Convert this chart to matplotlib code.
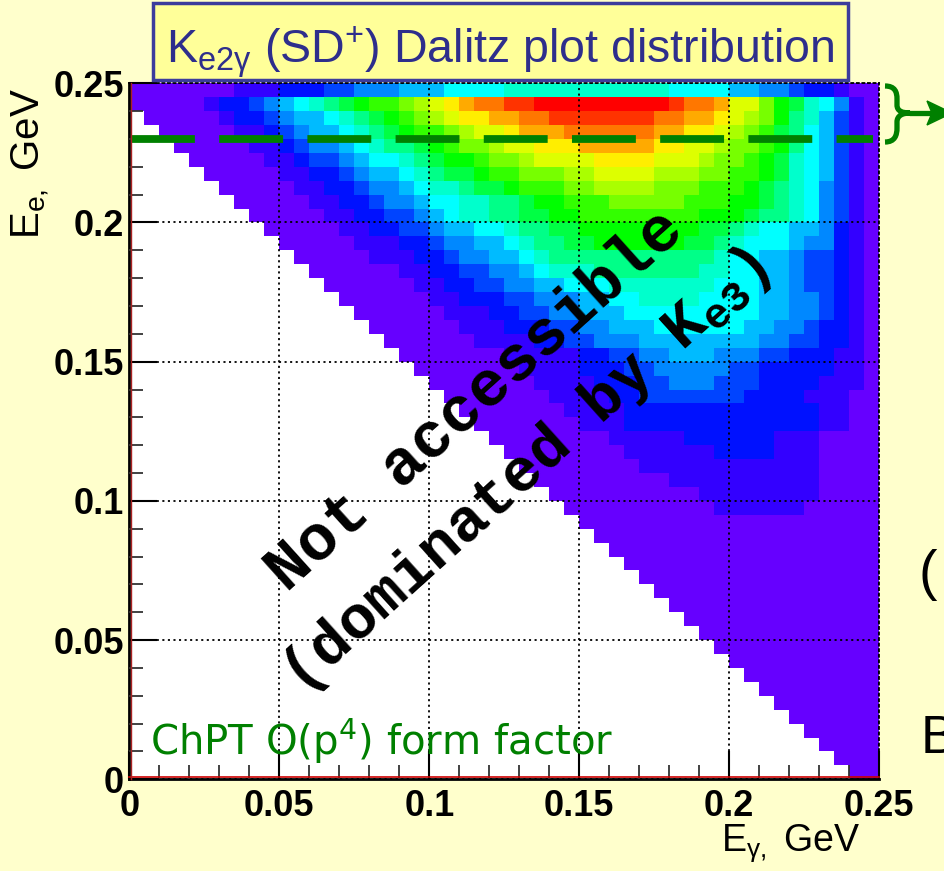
import numpy as np
import matplotlib
matplotlib.use('Agg')
import matplotlib.pyplot as plt
from matplotlib.colors import ListedColormap, BoundaryNorm
from matplotlib.path import Path
from matplotlib.patches import PathPatch, Rectangle, Polygon
import matplotlib.transforms as mtransforms

plt.rcParams['lines.scale_dashes'] = False

# 50 x 50 bins over the Dalitz plane (GeV)
e_gamma_edges = np.linspace(0.0, 0.25, 51)
e_e_edges = np.linspace(0.0, 0.25, 51)

# palette level per bin, one string per E_e row, top row (0.245-0.25) first.
# '.' = empty bin, '0'-'9' then 'a'-'k' = levels 0..20
rows_top_down = [
    "0000000111" "2223344455" "5666677777" "7777776666" "5544322100",  # 49
    "0000012234" "56789abbcd" "efhiijjkkk" "kkkkkkjiih" "eeca976410",  # 48
    ".000001223" "4556789abc" "deffhhiijj" "jjjjjiihhf" "edca875310",  # 47
    "..00000112" "34556789ab" "bcdeefhhhi" "iiiiihhffe" "dcb9865310",  # 46
    "...0000011" "2344567889" "abccdeefff" "hhhhhffeed" "ccba865310",  # 45
    "....000001" "1233456678" "9aabccdeee" "effffeeedc" "cba9765310",  # 44
    ".....00000" "1122345567" "899abbcccd" "deeeedddcc" "bba9765310",  # 43
    "......0000" "0112234456" "77899abbbc" "cddddcccbb" "ba98764310",  # 42
    ".......000" "0011223445" "6677889aab" "bbcccccbbb" "aa98764310",  # 41
    "........00" "0001122334" "56778899aa" "bbbbbbbbaa" "a988764310",  # 40
    ".........0" "0000112233" "4556678899" "aaaaaaaa99" "8766554210",  # 39
    ".........." "0000011122" "3445567889" "9aaaaaa998" "7666544210",  # 38
    ".........." ".000001112" "2344556788" "8888888887" "6655433210",  # 37
    ".........." "..00000011" "2233445677" "7888888877" "6655433210",  # 36
    ".........." "...0000001" "1223344556" "6677777776" "6655433210",  # 35
    ".........." "....000000" "1122233444" "5566777766" "6655443210",  # 34
    ".........." ".....00000" "0111223344" "5556666666" "6655443210",  # 33
    ".........." "......0000" "0011122233" "4455566666" "6554432210",  # 32
    ".........." ".......000" "0001111223" "3444555555" "5544332210",  # 31
    ".........." "........00" "0000011111" "2233445554" "4433222110",  # 30
    ".........." ".........0" "0000001111" "2223344444" "3322222110",  # 29
    ".........." ".........." "0000000111" "1222334443" "3322221110",  # 28
    ".........." ".........." ".000000011" "1122333333" "3222211100",  # 27
    ".........." ".........." "..00000001" "1112222222" "2222221100",  # 26
    ".........." ".........." "...0000000" "1112222222" "2222221100",  # 25
    ".........." ".........." "....000000" "0011111222" "2221110000",  # 24
    ".........." ".........." ".....00000" "0001111112" "2221110000",  # 23
    ".........." ".........." "......0000" "0000111111" "1111110000",  # 22
    ".........." ".........." ".......000" "0000001111" "1111110000",  # 21
    ".........." ".........." "........00" "0000000011" "1111110000",  # 20
    ".........." ".........." ".........0" "0000000001" "1111100000",  # 19
    ".........." ".........." ".........." "0000000000" "0000000000",  # 18
    ".........." ".........." ".........." ".000000000" "0000000000",  # 17
    ".........." ".........." ".........." "..00000000" "0000000000",  # 16
    ".........." ".........." ".........." "...0000000" "0000000000",  # 15
    ".........." ".........." ".........." "....000000" "0000000000",  # 14
    ".........." ".........." ".........." ".....00000" "0000000000",  # 13
    ".........." ".........." ".........." "......0000" "0000000000",  # 12
    ".........." ".........." ".........." ".......000" "0000000000",  # 11
    ".........." ".........." ".........." "........00" "0000000000",  # 10
    ".........." ".........." ".........." ".........0" "0000000000",  # 9
    ".........." ".........." ".........." ".........." "0000000000",  # 8
    ".........." ".........." ".........." ".........." ".000000000",  # 7
    ".........." ".........." ".........." ".........." "..00000000",  # 6
    ".........." ".........." ".........." ".........." "...0000000",  # 5
    ".........." ".........." ".........." ".........." "....000000",  # 4
    ".........." ".........." ".........." ".........." ".....00000",  # 3
    ".........." ".........." ".........." ".........." "......0000",  # 2
    ".........." ".........." ".........." ".........." ".......000",  # 1
    ".........." ".........." ".........." ".........." "........00",  # 0
]

# ROOT-like rainbow palette, lowest level first
level_colors = ['#6600ff', '#3300ff', '#0011ff', '#0044ff', '#0088ff',
                '#00bbff', '#00ffff', '#00ffcc', '#00ff88', '#00ff44',
                '#00ff00', '#33ff00', '#77ff00', '#aaff00', '#ddff00',
                '#ffee00', '#ffcc00', '#ffaa00', '#ff7700', '#ff3300',
                '#ff0000']

x_ticks = [0.0, 0.05, 0.1, 0.15, 0.2, 0.25]
x_tick_labels = ['0', '0.05', '0.1', '0.15', '0.2', '0.25']
y_ticks = [0.0, 0.05, 0.1, 0.15, 0.2, 0.25]
y_tick_labels = ['0', '0.05', '0.1', '0.15', '0.2', '0.25']
cut_e_e = 0.23  # E_e cut shown as dashed line

# decode the level map
n = len(rows_top_down)
levels = np.full((n, 50), np.nan)
for i, s in enumerate(rows_top_down):
    for j, ch in enumerate(s):
        if ch != '.':
            levels[n - 1 - i, j] = int(ch, 36)

W, H = 944, 871
def fx(x):
    return x / W
def fy(y):
    return 1 - y / H

bg = '#ffffcc'
green = '#008000'
fig = plt.figure(figsize=(W / 100, H / 100), dpi=100, facecolor=bg)
ax = fig.add_axes([fx(129.3), fy(779.3), 750 / W, 696 / H])
ax.set_facecolor('white')

cmap = ListedColormap(level_colors)
norm = BoundaryNorm(np.arange(len(level_colors) + 1) - 0.5, cmap.N)
ax.pcolormesh(e_gamma_edges, e_e_edges, np.ma.masked_invalid(levels),
              cmap=cmap, norm=norm, zorder=1)

ax.set_xlim(0, 0.25)
ax.set_ylim(0, 0.25)
ax.set_xticks(x_ticks)
ax.set_xticklabels(x_tick_labels)
ax.set_yticks(y_ticks)
ax.set_yticklabels(y_tick_labels)
ax.set_xticks(np.arange(0, 0.2501, 0.01), minor=True)
ax.set_yticks(np.arange(0, 0.2501, 0.01), minor=True)
tick_font = dict(family='Liberation Sans', weight='bold', size=26)
for lab in ax.get_xticklabels() + ax.get_yticklabels():
    lab.set_fontproperties(tick_font)
ax.tick_params(which='major', direction='in', length=20, width=1.5,
               color='black', pad=7)
ax.tick_params(which='minor', direction='in', length=10, width=1.3,
               color='#333333')
ax.tick_params(axis='y', which='major', pad=4)

ax.set_axisbelow(False)
ax.grid(True, which='major', color='black', linestyle=(0, (1.5, 2.5)),
        linewidth=1.3)
for side in ['left', 'bottom']:
    ax.spines[side].set_linewidth(2)
    ax.spines[side].set_color('black')
for side in ['top', 'right']:
    ax.spines[side].set_linewidth(1.3)
    ax.spines[side].set_linestyle((0, (1.5, 2.5)))

# thin red frame of the histogram along the lower and left edges
up = mtransforms.ScaledTranslation(0, 1.5 / 72, fig.dpi_scale_trans)
right = mtransforms.ScaledTranslation(1.5 / 72, 0, fig.dpi_scale_trans)
ax.plot([0, 0.25], [0, 0], color='#cc0000', lw=1.2,
        transform=ax.transData + up, clip_on=False, zorder=5)
ax.plot([0, 0], [0, 0.25], color='#aa2222', lw=1.0,
        transform=ax.transData + right, clip_on=False, zorder=5)

# E_e cut
cut_line, = ax.plot([0.0007, 0.2479], [cut_e_e, cut_e_e], color=green,
                    lw=5.6, zorder=4, solid_capstyle='butt')
cut_line.set_dashes((46, 17.5))
cut_line.set_dash_capstyle('butt')

# axis titles
fig.text(fx(31), fy(88), 'E$_{\\mathregular{e,}}$ GeV', rotation=90,
         ha='center', va='top', family='Liberation Sans', fontsize=29)
fig.text(fx(860), fy(822), 'E$_{\\mathregular{\u03b3,}}$ GeV',
         ha='right', va='top', family='Liberation Sans', fontsize=27)

# overlay notes on the plot
ax.text(fx(475), fy(400), 'Not accessible', transform=fig.transFigure,
        rotation=42, ha='center', va='center', rotation_mode='anchor',
        family='Liberation Mono', weight='bold', fontsize=46, zorder=6)
ax.text(fx(525), fy(472), '(dominated by K$_{\\mathregular{e3}}$)',
        transform=fig.transFigure, rotation=42, ha='center', va='center',
        rotation_mode='anchor', family='Liberation Mono', weight='bold',
        fontsize=44, zorder=6)
fig.text(fx(150), fy(755), 'ChPT O(p$^{\\mathregular{4}}$) form factor',
         ha='left', va='baseline', color=green, family='DejaVu Sans',
         fontsize=29, zorder=6)

# title box
fig.add_artist(Rectangle((fx(153), fy(80)), (848 - 153) / W, 77 / H,
                         transform=fig.transFigure, facecolor='#ffff99',
                         edgecolor='#3c3c9c', lw=2.5))
fig.text(fx(500), fy(63), 'K$_{\\mathregular{e2\u03b3}}$ (SD$^{\\mathregular{+}}$) Dalitz plot distribution',
         ha='center', va='baseline', color='#2e2e8c',
         family='Liberation Sans', fontsize=33.5)

# brace marking the E_e > 0.23 band, with arrow
bx = [(885, 86), (895, 86), (897, 92), (897, 99), (897, 105),
      (897, 111), (902, 113), (910, 113), (902, 113), (897, 116),
      (897, 122), (897, 128), (897, 135), (895, 142), (885, 142)]
codes = [Path.MOVETO, Path.CURVE4, Path.CURVE4, Path.CURVE4, Path.LINETO,
         Path.CURVE4, Path.CURVE4, Path.CURVE4, Path.CURVE4, Path.CURVE4,
         Path.CURVE4, Path.LINETO, Path.CURVE4, Path.CURVE4, Path.CURVE4]
brace = Path([(fx(x), fy(y)) for x, y in bx], codes)
fig.add_artist(PathPatch(brace, transform=fig.transFigure, facecolor='none',
                         edgecolor=green, lw=3.8, capstyle='butt'))
fig.add_artist(plt.Line2D([fx(912), fx(935)], [fy(113), fy(113)],
                          transform=fig.transFigure, color=green, lw=3.8))
fig.add_artist(Polygon([(fx(952), fy(113)), (fx(927), fy(101)),
                        (fx(932), fy(113)), (fx(927), fy(125))],
                       closed=True, transform=fig.transFigure,
                       facecolor=green, edgecolor=green))

# slide text running off the right edge
fig.text(fx(918), fy(575), '(', ha='left', va='center',
         family='Liberation Sans', fontsize=40)
fig.text(fx(921), fy(753), 'B', ha='left', va='baseline',
         family='Liberation Sans', fontsize=38)

fig.savefig('out.png', dpi=100, facecolor=bg)
